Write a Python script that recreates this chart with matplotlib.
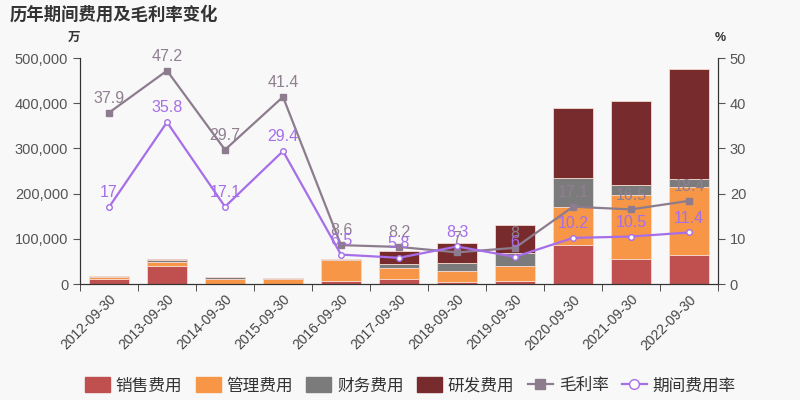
import numpy as np
import matplotlib.pyplot as plt
from matplotlib.patches import FancyBboxPatch
from matplotlib.lines import Line2D
from matplotlib.ticker import FuncFormatter

plt.rcParams['font.family'] = ['Liberation Sans', 'Noto Sans CJK SC']

# ---------------------------
# Data (万 / %)
# ---------------------------
years = ["2012-09-30", "2013-09-30", "2014-09-30", "2015-09-30", "2016-09-30",
         "2017-09-30", "2018-09-30", "2019-09-30", "2020-09-30", "2021-09-30",
         "2022-09-30"]
sales = [10000, 40000, 1000, 500, 6500, 11000, 5000, 7000, 86000, 56000, 65000]
admin = [6000, 9000, 11000, 10500, 47500, 24000, 24000, 33000, 85000, 142000, 150000]
finance = [800, 5000, 3000, 2000, 1000, 9000, 18000, 28000, 64000, 20000, 17000]
rnd = [0, 1000, 0, 0, 0, 29000, 44000, 63000, 154000, 186000, 244000]
gross_margin = [37.9, 47.2, 29.7, 41.4, 8.6, 8.2, 7, 8, 17.1, 16.5, 18.4]
expense_ratio = [17, 35.8, 17.1, 29.4, 6.5, 5.8, 8.3, 6, 10.2, 10.5, 11.4]

c_sales = "#c0504f"
c_admin = "#f79646"
c_fin = "#7b7b7b"
c_rnd = "#772b2c"
c_gm = "#8d7c8e"
c_er = "#a66ee8"
bg = "#f8f8f8"
txt = "#333333"

fig = plt.figure(figsize=(8, 4), dpi=100, facecolor=bg)
ax = fig.add_axes([0.1, 0.29, 0.7975, 0.565], facecolor=bg)
ax2 = ax.twinx()

x = np.arange(len(years))
w = 0.7
bottom = np.zeros(len(years))
for vals, col in [(sales, c_sales), (admin, c_admin), (finance, c_fin), (rnd, c_rnd)]:
    ax.bar(x, vals, w, bottom=bottom, color=col, edgecolor="#f3d9d0", linewidth=0.6)
    bottom += np.array(vals)

ax.set_ylim(0, 500000)
ax.set_xlim(-0.5, len(years) - 0.5)
ax.set_yticks(range(0, 500001, 100000))
ax.yaxis.set_major_formatter(FuncFormatter(lambda v, p: f"{int(v):,}"))
ax.set_xticks(x)
ax.set_xticklabels(years, rotation=45, ha="right", rotation_mode="anchor", fontsize=10, color="#444444")
ax.set_xticks(np.arange(-0.5, len(years)), minor=True)
ax.tick_params(axis="x", which="major", length=0, pad=6)
ax.tick_params(axis="x", which="minor", length=5, color=txt)
ax.tick_params(axis="y", labelsize=10.5, colors="#555555", length=5)

ax2.set_ylim(0, 50)
ax2.set_yticks(range(0, 51, 10))
ax2.tick_params(axis="y", labelsize=10.5, colors="#555555", length=5)

for a in (ax, ax2):
    a.spines["top"].set_visible(False)
    for s in ("left", "right", "bottom"):
        a.spines[s].set_color(txt)

ax2.plot(x, gross_margin, color=c_gm, linewidth=1.6, marker="s", markersize=4, zorder=3)
ax2.plot(x, expense_ratio, color=c_er, linewidth=1.6, marker="o", markersize=4,
         markerfacecolor="white", markeredgecolor=c_er, zorder=4)

for xi, v in zip(x, gross_margin):
    ax2.text(xi, v + 1.5, f"{v:g}", ha="center", va="bottom", fontsize=11.5, color="#8f7f90", zorder=5)
for xi, v in zip(x, expense_ratio):
    ax2.text(xi, v + 1.5, f"{v:g}", ha="center", va="bottom", fontsize=11.5, color=c_er, zorder=5)

fig.text(0.012, 0.965, "历年期间费用及毛利率变化", fontsize=12.5, fontweight="bold", color=txt, va="center")
fig.text(0.1, 0.905, "万", fontsize=9, fontweight="bold", color=txt, ha="right", va="center")
fig.text(0.9, 0.905, "%", fontsize=9, fontweight="bold", color=txt, ha="center", va="center")

handles = [
    FancyBboxPatch((0, 0), 1, 1, boxstyle="round,pad=0.1", color=c_sales),
    FancyBboxPatch((0, 0), 1, 1, boxstyle="round,pad=0.1", color=c_admin),
    FancyBboxPatch((0, 0), 1, 1, boxstyle="round,pad=0.1", color=c_fin),
    FancyBboxPatch((0, 0), 1, 1, boxstyle="round,pad=0.1", color=c_rnd),
    Line2D([0], [0], color=c_gm, marker="s", markersize=7, linewidth=1.6),
    Line2D([0], [0], color=c_er, marker="o", markersize=7, linewidth=1.6,
           markerfacecolor="white", markeredgecolor=c_er),
]
labels = ["销售费用", "管理费用", "财务费用", "研发费用", "毛利率", "期间费用率"]
fig.legend(handles, labels, loc="center", bbox_to_anchor=(0.513, 0.037), ncol=6, frameon=False,
           fontsize=12, handlelength=1.5, handleheight=1.0, handletextpad=0.35,
           columnspacing=0.8, labelcolor=txt)

plt.savefig("out.png", dpi=100, facecolor=bg)
